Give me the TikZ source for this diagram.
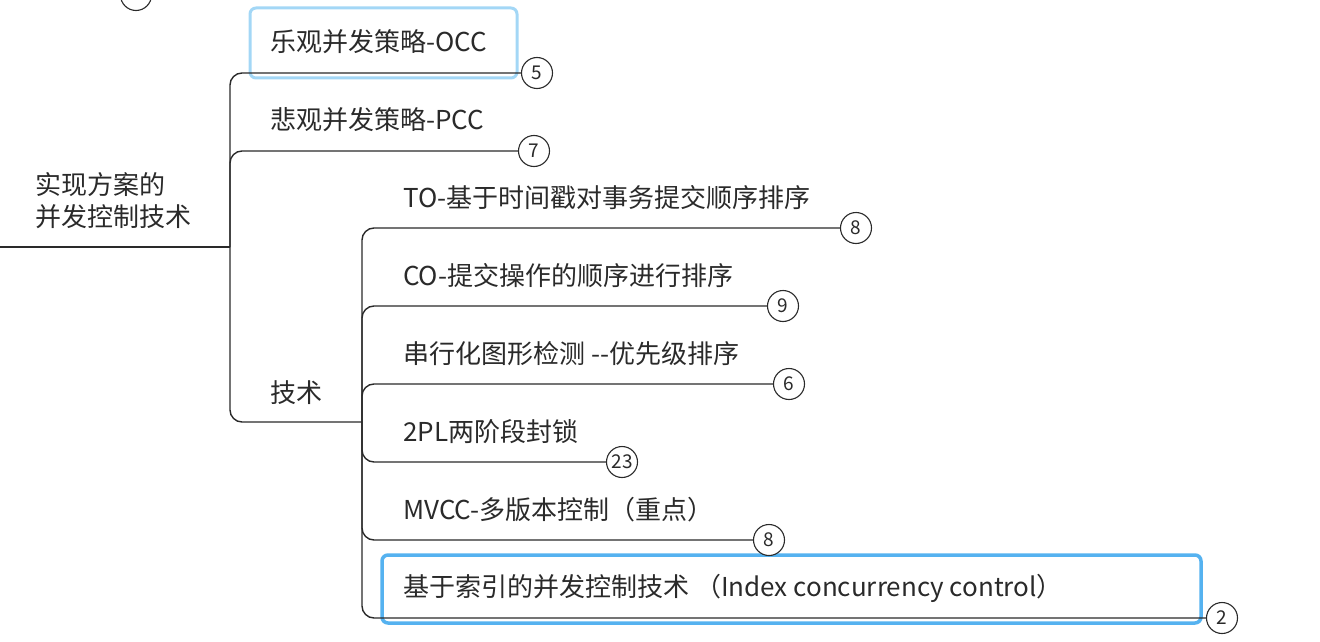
\documentclass[tikz,border=0pt]{standalone}
\usepackage{fontspec}
\setmainfont{Noto Sans CJK SC}
\usetikzlibrary{positioning, calc}
\definecolor{inkgray}{HTML}{2A2A2A}
\definecolor{selblue}{HTML}{55B2F0}
\definecolor{paleblue}{HTML}{A3D7F6}
\tikzstyle{branch}=[line width=1.4pt, color=inkgray, rounded corners=12pt]
\tikzstyle{topic}=[anchor=west, inner sep=0pt, text=inkgray, font=\fontsize{26}{32}\selectfont]
\tikzstyle{badge}=[circle, draw=inkgray, line width=1.1pt, fill=white, minimum size=31pt,
                   inner sep=0pt, text=inkgray, font=\fontsize{19}{19}\selectfont]
\tikzstyle{selbox}=[rounded corners=6pt]

\begin{document}
\begin{tikzpicture}[x=1pt, y=-1pt]
  \useasboundingbox (0,0) rectangle (1320,642);

  % Highlight boxes
  \draw[selbox, paleblue, line width=3pt] (250,8) rectangle (517,78);
  \draw[selbox, selblue, line width=3.5pt] (382,555) rectangle (1201,623);

  % Root
  \node[topic, align=left] (root) at (35,201) {实现方案的\\并发控制技术};
  \coordinate (rootend) at (0,247);
  \coordinate (spine) at (230,247);
  \draw[branch] (rootend) -- (spine);
  \node[badge] (b-prev) at (136,-5) {};

  % First level
  \node[topic] (occ) at (270,42) {乐观并发策略-OCC};
  \node[badge] (b-occ) at (537,73) {5};
  \node[topic] (pcc) at (270,120) {悲观并发策略-PCC};
  \node[badge] (b-pcc) at (534,151) {7};
  \node[topic] (tech) at (270,393) {技术};
  \coordinate (spine2) at (362,422);

  \draw[branch] (spine) |- (b-occ.west);
  \draw[branch] (spine) |- (b-pcc.west);
  \draw[branch] (spine) |- (spine2);

  % Second level
  \foreach \name/\yy/\txt/\bx/\num in {
      to/198/{TO-基于时间戳对事务提交顺序排序}/856/8,
      co/276/{CO-提交操作的顺序进行排序}/783/9,
      ser/354/{串行化图形检测 -{}-优先级排序}/789/6,
      tpl/432/{2PL两阶段封锁}/622/23,
      mvcc/510/{MVCC-多版本控制（重点）}/769/8,
      idx/588/{基于索引的并发控制技术 （Index concurrency control）}/1222/2}{
    \node[topic] (\name) at (403,\yy) {\txt};
    \node[badge] (b-\name) at (\bx,\yy+30) {\num};
    \draw[branch] (spine2) |- (b-\name.west);
  }
\end{tikzpicture}
\end{document}
